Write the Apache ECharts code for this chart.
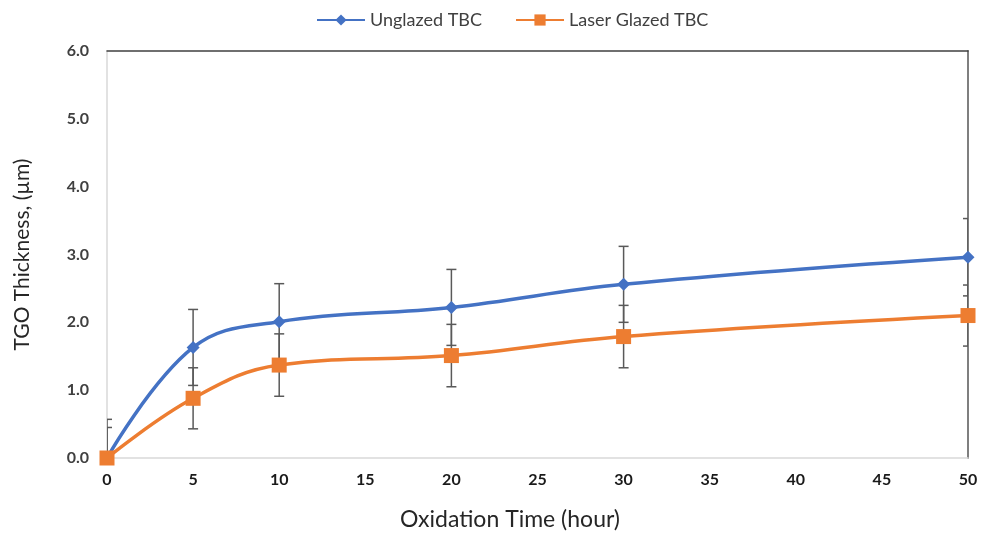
<!DOCTYPE html>
<html>
<head>
<meta charset="utf-8">
<script src="https://cdn.jsdelivr.net/npm/echarts@6/dist/echarts.min.js"></script>
<style>
html,body{margin:0;padding:0;background:#fff;}
#chart{width:991px;height:536px;}
</style>
</head>
<body>
<div id="chart"></div>
<script>
var times = [0, 5, 10, 20, 30, 50];
var unglazed = [0, 1.63, 2.01, 2.22, 2.56, 2.96];
var unglazedErr = [0.57, 0.56, 0.56, 0.56, 0.56, 0.57];
var laser = [0, 0.88, 1.37, 1.51, 1.79, 2.10];
var laserErr = [0.45, 0.45, 0.46, 0.46, 0.46, 0.45];
var seriesNames = ['Unglazed TBC', 'Laser Glazed TBC'];

function pairs(ys) { return times.map(function (t, i) { return [t, ys[i]]; }); }
function errData(ys, es) { return times.map(function (t, i) { return [t, ys[i] - es[i], ys[i] + es[i]]; }); }

function errRender(params, api) {
  var x = api.value(0);
  var lo = api.coord([x, api.value(1)]);
  var hi = api.coord([x, api.value(2)]);
  var hw = 5;
  var style = { stroke: '#595959', lineWidth: 1.5 };
  return {
    type: 'group',
    children: [
      { type: 'line', shape: { x1: lo[0], y1: lo[1], x2: hi[0], y2: hi[1] }, style: style },
      { type: 'line', shape: { x1: lo[0] - hw, y1: lo[1], x2: lo[0] + hw, y2: lo[1] }, style: style },
      { type: 'line', shape: { x1: hi[0] - hw, y1: hi[1], x2: hi[0] + hw, y2: hi[1] }, style: style }
    ]
  };
}

var chart = echarts.init(document.getElementById('chart'));
var tickFont = { fontFamily: 'Lato, sans-serif', fontWeight: 'bold', fontSize: 16 };
chart.setOption({
  animation: false,
  legend: {
    top: 6, left: 311,
    itemWidth: 48, itemHeight: 14, itemGap: 33,
    textStyle: { fontFamily: 'Lato, sans-serif', fontSize: 18, color: '#404040' },
    data: seriesNames
  },
  grid: { left: 107, right: 23, top: 51, bottom: 77, containLabel: false },
  xAxis: [{
    type: 'value', min: 0, max: 50, interval: 5,
    name: 'Oxidation Time (hour)', nameLocation: 'middle', nameGap: 50,
    nameTextStyle: { fontFamily: 'Lato, sans-serif', fontSize: 23, color: '#262626', padding: [0, 55, 0, 0] },
    axisLine: { show: true, onZero: false, lineStyle: { color: '#d9d9d9', width: 1.5 } },
    axisTick: { show: false },
    splitLine: { show: false },
    axisLabel: Object.assign({ color: '#1a1a1a', margin: 14 }, tickFont)
  }, {
    type: 'value', position: 'top', min: 0, max: 50,
    axisLine: { show: true, onZero: false, lineStyle: { color: '#404040', width: 1.5 } },
    axisTick: { show: false }, axisLabel: { show: false }, splitLine: { show: false }
  }],
  yAxis: [{
    type: 'value', min: 0, max: 6, interval: 1,
    name: 'TGO Thickness, (µm)', nameLocation: 'middle', nameGap: 74,
    nameTextStyle: { fontFamily: 'Lato, sans-serif', fontSize: 21, color: '#262626' },
    axisLine: { show: true, onZero: false, lineStyle: { color: '#d9d9d9', width: 1.5 } },
    axisTick: { show: false },
    splitLine: { show: false },
    axisLabel: Object.assign({ color: '#404040', margin: 18, formatter: function (v) { return v.toFixed(1); } }, tickFont)
  }, {
    type: 'value', position: 'right', min: 0, max: 6,
    axisLine: { show: true, onZero: false, lineStyle: { color: '#7f7f7f', width: 2 } },
    axisTick: { show: false }, axisLabel: { show: false }, splitLine: { show: false }
  }],
  series: [{
    name: seriesNames[0], type: 'line', smooth: 0.4,
    data: pairs(unglazed),
    symbol: 'diamond', symbolSize: 13,
    itemStyle: { color: '#4472C4' },
    lineStyle: { color: '#4472C4', width: 3.5 },
    z: 3
  }, {
    name: seriesNames[1], type: 'line', smooth: 0.4,
    data: pairs(laser),
    symbol: 'rect', symbolSize: 15,
    itemStyle: { color: '#ED7D31' },
    lineStyle: { color: '#ED7D31', width: 3.5 },
    z: 3
  }, {
    type: 'custom', renderItem: errRender, data: errData(unglazed, unglazedErr),
    clip: true, z: 2, silent: true
  }, {
    type: 'custom', renderItem: errRender, data: errData(laser, laserErr),
    clip: true, z: 2, silent: true
  }]
});
</script>
</body>
</html>
